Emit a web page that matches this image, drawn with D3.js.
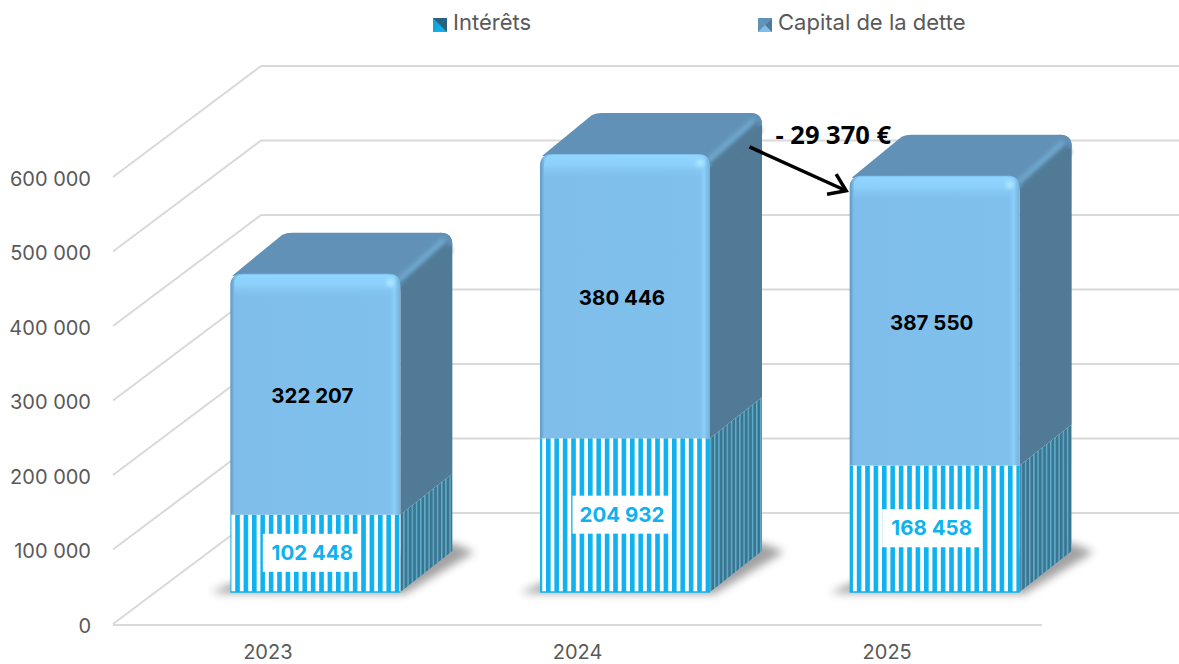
<!DOCTYPE html>
<html>
<head>
<meta charset="utf-8">
<script src="https://cdn.jsdelivr.net/npm/d3@7"></script>
<style>
    html, body { margin: 0; padding: 0; background: #fff; }
    svg { display: block; }
    text { font-family: Inter, "Noto Sans", sans-serif; }
</style>
</head>
<body>
<svg width="1179" height="664"></svg>
<script>
const years = ['2023', '2024', '2025'];
const interets = [102448, 204932, 168458];
const capital = [322207, 380446, 387550];
const yTicks = [0, 100000, 200000, 300000, 400000, 500000, 600000];
const seriesNames = ['Intérêts', 'Capital de la dette'];
const annotation = '- 29 370 €';

const svg = d3.select('svg');
const defs = svg.append('defs');

// 3D box settings
const floorLeft = 113, floorRight = 1042, floorY = 624;
const wallDx = 148, wallDy = 111;
const barOffsetX = 48, barBaseLift = 32, barWidth = 170;
const depthX = 52, depthY = 41;

const x = d3.scaleBand().domain(years).range([floorLeft, floorRight]);
const y = d3.scaleLinear().domain([0, 600000]).range([floorY, 177]);
const h = v => floorY - y(v);
const number = v => d3.format(',')(v).replace(/,/g, ' ');

// patterns and gradients
const stripes = defs.append('pattern').attr('id', 'stripes')
    .attr('patternUnits', 'userSpaceOnUse').attr('width', 8.4).attr('height', 10);
stripes.append('rect').attr('width', 8.4).attr('height', 10).attr('fill', '#fff');
stripes.append('rect').attr('width', 4.6).attr('height', 10).attr('fill', '#0fb2ee');

const sideStripes = defs.append('pattern').attr('id', 'sideStripes')
    .attr('patternUnits', 'userSpaceOnUse').attr('width', 4.2).attr('height', 10);
sideStripes.append('rect').attr('width', 4.2).attr('height', 10).attr('fill', '#3a7592');
sideStripes.append('rect').attr('width', 1.4).attr('height', 10).attr('fill', '#62afcb');

function gradient(id, x2, y2, stops) {
    const g = defs.append('linearGradient').attr('id', id)
        .attr('x1', 0).attr('y1', 0).attr('x2', x2).attr('y2', y2);
    stops.forEach(s => g.append('stop').attr('offset', s[0]).attr('stop-color', s[1]).attr('stop-opacity', s[2]));
}
gradient('frontH', 1, 0, [[0, '#5d97c2', 1], [0.025, '#7fbeeb', 1], [0.94, '#80c0ed', 1], [0.965, '#8acffa', 1], [1, '#74aed8', 1]]);
gradient('frontTop', 0, 1, [[0, '#8fd6ff', 1], [0.45, '#8cd2fc', 0.9], [1, '#84c6f3', 0]]);

const soft = (id, sd) => defs.append('filter').attr('id', id)
    .attr('x', '-40%').attr('y', '-40%').attr('width', '180%').attr('height', '180%')
    .append('feGaussianBlur').attr('stdDeviation', sd);
soft('blur', 4.5);
soft('blurSmall', 2);

defs.append('marker').attr('id', 'arrow')
    .attr('markerUnits', 'userSpaceOnUse').attr('markerWidth', 30).attr('markerHeight', 30)
    .attr('refX', 25).attr('refY', 15).attr('orient', 'auto')
    .append('path').attr('d', 'M9,4 L25,15 L9,26')
    .attr('fill', 'none').attr('stroke', '#000').attr('stroke-width', 3.5);

// walls
const grid = svg.append('g').attr('stroke', '#d9d9d9').attr('stroke-width', 2).attr('fill', 'none');
yTicks.forEach(t => {
    grid.append('line').attr('x1', floorLeft).attr('y1', y(t))
        .attr('x2', floorLeft + wallDx).attr('y2', y(t) - wallDy);
    grid.append('line').attr('x1', floorLeft + wallDx).attr('y1', y(t) - wallDy)
        .attr('x2', 1179).attr('y2', y(t) - wallDy);
});
grid.append('line').attr('x1', floorLeft).attr('y1', floorY + 1).attr('x2', floorRight).attr('y2', floorY + 1);

// axes
const yAxis = svg.append('g').attr('transform', `translate(${floorLeft},2)`)
    .call(d3.axisLeft(y).tickValues(yTicks).tickFormat(number).tickSize(0).tickPadding(22));
yAxis.select('.domain').remove();
yAxis.selectAll('text').attr('fill', '#595959').style('font-size', '20px');

const xAxis = svg.append('g').attr('transform', `translate(0,${floorY + 21})`)
    .call(d3.axisBottom(x).tickSize(0).tickPadding(0));
xAxis.select('.domain').remove();
xAxis.selectAll('text').attr('fill', '#595959').style('font-size', '20px');

// bars
years.forEach((year, i) => {
    const left = x(year) + x.bandwidth() / 2 + barOffsetX - barWidth / 2 - 0.5;
    const right = left + barWidth;
    const base = floorY - barBaseLift;
    const mid = base - h(interets[i]) - 1;
    const top = mid - h(capital[i]) - 1;
    const backTop = top - depthY;
    const g = svg.append('g').attr('class', 'bar');

    // shadow on the floor
    g.append('path')
        .attr('d', `M${left - 20},${base + 1} L${right + 4},${base + 2} L${right + depthX + 22},${base - depthY + 1} L${right + depthX},${base - depthY - 8} L${left},${base - 8} Z`)
        .attr('fill', '#7a7a7a').attr('opacity', 0.7).attr('filter', 'url(#blur)');

    // right side
    g.append('path')
        .attr('d', `M${right},${base} L${right + depthX},${base - depthY} L${right + depthX},${mid - depthY} L${right},${mid} Z`)
        .attr('fill', 'url(#sideStripes)');
    g.append('path')
        .attr('d', `M${right},${mid} L${right + depthX},${mid - depthY} V${backTop + 12} Q${right + depthX},${backTop} ${right + depthX - 12},${backTop} L${right},${top} Z`)
        .attr('fill', '#517a96');

    // top
    g.append('path')
        .attr('d', `M${left + 2},${top + 2} L${left + depthX},${backTop + 2} Q${left + depthX + 4},${backTop} ${left + depthX + 10},${backTop} L${right + depthX - 12},${backTop} Q${right + depthX},${backTop} ${right + depthX},${backTop + 12} L${right},${top + 14} Z`)
        .attr('fill', '#6191b6');

    // soft edge between top and side
    g.append('path')
        .attr('d', `M${right},${top + 6} L${right + depthX - 6},${backTop + 8} L${right + depthX},${backTop + 18} L${right + 3},${top + 19} Z`)
        .attr('fill', '#517a96').attr('filter', 'url(#blurSmall)');
    g.append('line')
        .attr('x1', right - 2).attr('y1', top + 7).attr('x2', right + depthX - 8).attr('y2', backTop + 7)
        .attr('stroke', '#72abd2').attr('stroke-width', 5).attr('filter', 'url(#blurSmall)');

    // front, hatched part
    g.append('rect').attr('x', left).attr('y', mid).attr('width', barWidth).attr('height', base - mid)
        .attr('fill', 'url(#stripes)');
    g.append('path')
        .attr('d', `M${left},${base} H${right}`)
        .attr('fill', 'none').attr('stroke', '#0fb2ee').attr('stroke-width', 1.5);

    // front, plain part
    g.append('path')
        .attr('d', `M${left},${mid} V${top + 12} Q${left},${top} ${left + 12},${top} H${right - 12} Q${right},${top} ${right},${top + 12} V${mid} Z`)
        .attr('fill', 'url(#frontH)');
    g.append('path')
        .attr('d', `M${left + 4},${top + 24} V${top + 10} Q${left + 4},${top + 1} ${left + 12},${top + 1} H${right - 12} Q${right - 4},${top + 1} ${right - 5},${top + 10} V${top + 24} Z`)
        .attr('fill', 'url(#frontTop)');
    g.append('circle').attr('cx', right - 10).attr('cy', top + 9).attr('r', 3.5)
        .attr('fill', '#b5ecff').attr('filter', 'url(#blurSmall)');

    // labels
    const cx = (left + right) / 2 - 3.5;
    const cyLow = (base + mid) / 2;
    g.append('rect').attr('x', cx - 49).attr('y', cyLow - 19.5).attr('width', 98).attr('height', 38).attr('fill', '#fff');
    g.append('text').attr('x', cx + 0.5).attr('y', cyLow - 1).attr('dy', '0.36em').attr('text-anchor', 'middle')
        .attr('fill', '#0fb2ee').style('font-size', '20.5px').style('font-weight', 700).text(number(interets[i]));
    g.append('text').attr('x', cx + 0.5).attr('y', (mid + top) / 2 + 1.5).attr('dy', '0.36em').attr('text-anchor', 'middle')
        .attr('fill', '#000').style('font-size', '20.5px').style('font-weight', 700).text(number(capital[i]));
});

// variation between 2024 and 2025
const topOf = i => floorY - barBaseLift - h(interets[i]) - h(capital[i]);
const rightOf = i => x(years[i]) + x.bandwidth() / 2 + barOffsetX + barWidth / 2;
const leftOf = i => rightOf(i) - barWidth;
svg.append('line')
    .attr('x1', rightOf(1) + 39).attr('y1', topOf(1) - 9)
    .attr('x2', leftOf(2) - 4).attr('y2', topOf(2) + 13)
    .attr('stroke', '#000').attr('stroke-width', 3.5).attr('marker-end', 'url(#arrow)');
svg.append('text').attr('x', rightOf(1) + 65).attr('y', topOf(1) - 12)
    .attr('fill', '#000').style('font-family', '"Open Sans", sans-serif')
    .style('font-size', '25.5px').style('font-weight', 700).text(annotation);

// legend
const legendX = [433, 758];
seriesNames.forEach((name, i) => {
    const g = svg.append('g').attr('transform', `translate(${legendX[i]},18)`);
    g.append('rect').attr('width', 14).attr('height', 14).attr('fill', i ? '#7fbeeb' : '#12ade9');
    g.append('path').attr('d', 'M0,0 L7,7 L0,14 Z').attr('fill', i ? '#6191b6' : '#12a5dc');
    g.append('path').attr('d', 'M14,0 L7,7 L14,14 Z').attr('fill', i ? '#4f7a96' : '#2c5f7c');
    g.append('path').attr('d', 'M0,0 L7,7 L14,0 Z').attr('fill', i ? '#6191b6' : '#2c5f7c');
    g.append('text').attr('x', 20).attr('y', 12).attr('fill', '#595959')
        .style('font-size', '22px').text(name);
});
</script>
</body>
</html>
